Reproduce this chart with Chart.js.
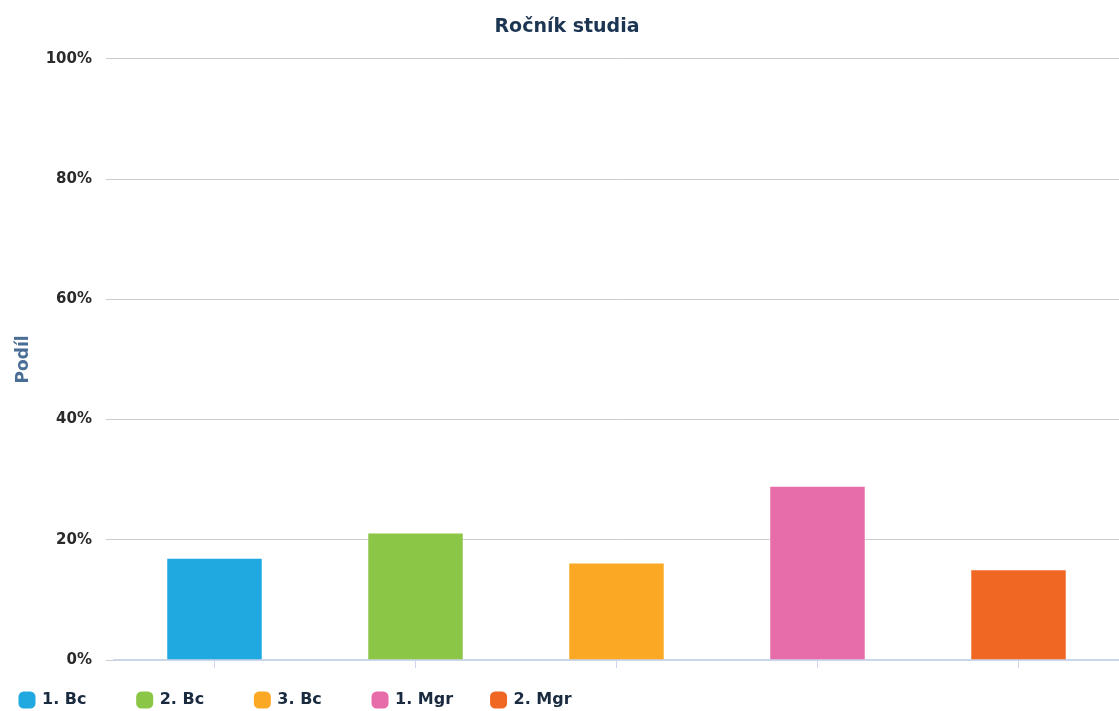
<!DOCTYPE html>
<html lang="cs">

<head>
    <meta charset="UTF-8">
    <meta name="viewport" content="width=device-width, initial-scale=1.0">
    <title>Ročník studia</title>
    <style>
        html, body { margin: 0; padding: 0; background: #ffffff; }
        #chartBox { width: 1119px; height: 711px; }
    </style>
</head>

<body>

    <div id="chartBox">
        <canvas id="myChart"></canvas>
    </div>

    <script src="https://cdn.jsdelivr.net/npm/chart.js@4.4.1/dist/chart.umd.min.js"></script>

    <script>
        // data (share of respondents, %)
        var categories = ['1. Bc', '2. Bc', '3. Bc', '1. Mgr', '2. Mgr'];
        var shares = [17.0, 21.2, 16.2, 29.0, 15.1];
        var yTicks = [0, 20, 40, 60, 80, 100];

        var barColors = ['#20a8e0', '#8bc646', '#fba925', '#e66daa', '#f06724'];
        var fontFamily = '"DejaVu Sans", "Liberation Sans", sans-serif';
        var legendFont = { family: fontFamily, size: 16, weight: 'bold' };

        document.addEventListener("DOMContentLoaded", function () {

            var ctx = document.getElementById('myChart').getContext('2d');

            // legend items have a fixed width, so pad each label with hair spaces up to it
            function padLabel(text) {
                ctx.save();
                ctx.font = 'bold 16px ' + fontFamily;
                var out = text;
                while (ctx.measureText(out + '\u200a').width <= 92) {
                    out += '\u200a';
                }
                ctx.restore();
                return out;
            }

            var myBarChart = new Chart(ctx, {
                type: 'bar',
                data: {
                    labels: categories,
                    datasets: [{
                        label: 'Podíl',
                        data: shares,
                        backgroundColor: barColors,
                        borderColor: 'rgba(255,255,255,0.45)',
                        borderWidth: 1,
                        categoryPercentage: 1,
                        barPercentage: 0.48
                    }]
                },
                options: {
                    responsive: true,
                    maintainAspectRatio: false,
                    animation: false,
                    layout: { padding: { left: 15, right: 0, top: 0, bottom: 0 } },
                    plugins: {
                        title: {
                            display: true,
                            text: 'Ročník studia',
                            color: '#1c3553',
                            font: { family: fontFamily, size: 19, weight: 'bold' },
                            padding: { top: 16, bottom: 20 }
                        },
                        legend: {
                            position: 'bottom',
                            align: 'start',
                            maxHeight: 24,
                            labels: {
                                usePointStyle: true,
                                pointStyle: 'rectRounded',
                                boxWidth: 14,
                                boxHeight: 14,
                                padding: 5,
                                color: '#1a2b40',
                                font: legendFont,
                                generateLabels: function (chart) {
                                    return categories.map(function (name, i) {
                                        return {
                                            text: padLabel(name),
                                            fillStyle: barColors[i],
                                            strokeStyle: barColors[i],
                                            lineWidth: 0,
                                            pointStyle: 'rectRounded',
                                            fontColor: '#1a2b40',
                                            hidden: false,
                                            index: i
                                        };
                                    });
                                }
                            }
                        },
                        tooltip: { enabled: false }
                    },
                    scales: {
                        x: {
                            offset: true,
                            afterFit: function (scale) { scale.height = 27; },
                            grid: {
                                offset: false,
                                drawOnChartArea: false,
                                drawTicks: true,
                                tickLength: 8,
                                color: '#ccd6eb'
                            },
                            border: { display: true, color: '#ccd6eb', width: 2 },
                            ticks: { display: false }
                        },
                        y: {
                            min: 0,
                            max: 100,
                            afterFit: function (scale) { scale.width = 99; },
                            afterBuildTicks: function (scale) {
                                scale.ticks = yTicks.map(function (v) { return { value: v }; });
                            },
                            grid: {
                                color: '#cccccc',
                                lineWidth: 1,
                                drawTicks: true,
                                tickLength: 8,
                                tickColor: '#cccccc'
                            },
                            border: { display: false },
                            ticks: {
                                padding: 14,
                                color: '#2a2a2a',
                                font: { family: fontFamily, size: 15, weight: 'bold' },
                                callback: function (v) { return v + '%'; }
                            },
                            title: {
                                display: true,
                                text: 'Podíl',
                                color: '#4a6d96',
                                font: { family: fontFamily, size: 17, weight: 'bold', lineHeight: 1 },
                                padding: { top: 0, bottom: 0 }
                            }
                        }
                    }
                }
            });

        });
    </script>
</body>

</html>
